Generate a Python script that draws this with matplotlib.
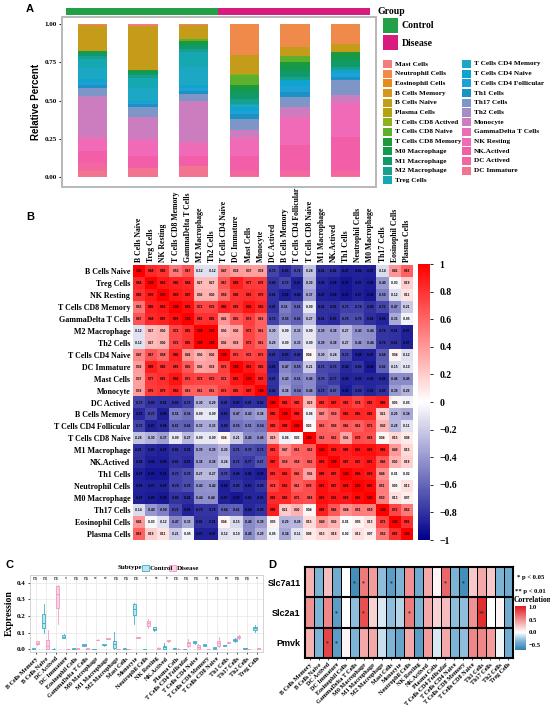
import numpy as np
import matplotlib
matplotlib.use("Agg")
import matplotlib.pyplot as plt
from matplotlib.colors import LinearSegmentedColormap, Normalize
from matplotlib.patches import Rectangle

W, H = 550, 705
SERIF = "Liberation Serif"
SANS = "Liberation Sans"

# ---------------- panel A data ----------------
cell_types = ["Mast Cells", "Neutrophil Cells", "Eosinophil Cells", "B Cells Memory",
              "B Cells Naive", "Plasma Cells", "T Cells CD8 Actived", "T Cells CD8 Naive",
              "T Cells CD8 Memory", "M0 Macrophage", "M1 Macrophage", "M2 Macrophage",
              "Treg Cells", "T Cells CD4 Memory", "T Cells CD4 Naive", "T Cells CD4 Follicular",
              "Th1 Cells", "Th17 Cells", "Th2 Cells", "Monocyte", "GammaDelta T Cells",
              "NK Resting", "NK.Actived", "DC Actived", "DC Immature"]
cell_colors = ["#F47C7C", "#F08A4A", "#E8891E", "#D6961E", "#C49C1A", "#B5A20F", "#8DB01E",
               "#5CB02C", "#1F9A3A", "#139A4E", "#109A6C", "#16A18E", "#16A8B0", "#1CA8C4",
               "#0FA3D0", "#1FA0D6", "#1A92C4", "#7E95C8", "#A68CC6", "#CC7DBF", "#E870B8",
               "#F06AB8", "#F25FA8", "#F2679E", "#F27590"]
samples = ["C1", "C2", "C3", "D1", "D2", "D3"]
groups = ["Control", "Control", "Control", "Disease", "Disease", "Disease"]
group_colors = {"Control": "#22A045", "Disease": "#D81B7F"}

ctrl1 = [.005, 0, 0, .005, .165, 0, 0, 0, .01, .005, .02, .02, .06, .07, .02, .02, .02, .05, .01, .26, .02, .07, .08, .05, .04]
ctrl2 = [.01, 0, 0, 0, .29, 0, 0, 0, .01, .01, .01, .02, .07, .08, .01, .01, .02, .07, 0, .14, .02, .09, .08, 0, .06]
ctrl3 = [.005, 0, 0, 0, .095, 0, 0, .01, .02, .01, .02, .02, .10, .12, .02, .02, .02, .04, 0, .27, .02, .07, .07, 0, .07]
dis1 = [0, .20, 0, 0, .125, 0, .005, .07, .02, .03, .04, .03, .01, .01, .03, .02, .03, .07, 0, .05, .02, .10, .10, .03, .01]
dis2 = [0, .15, 0, 0, .06, 0, 0, .035, .02, .04, .04, .02, 0, 0, .04, .04, .03, .065, 0, .06, .02, .17, .17, .03, .01]
dis3 = [0, .13, 0, 0, .05, 0, 0, 0, .02, .04, .04, .02, 0, 0, .02, .025, .02, .10, 0, .045, .01, .22, .22, .03, .01]

# ---------------- panel B data ----------------
cor_names = ["B Cells Naive", "Treg Cells", "NK Resting", "T Cells CD8 Memory", "GammaDelta T Cells",
             "M2 Macrophage", "Th2 Cells", "T Cells CD4 Naive", "DC Immature", "Mast Cells",
             "Monocyte", "DC Actived", "B Cells Memory", "T Cells CD4 Follicular",
             "T Cells CD8 Naive", "M1 Macrophage", "NK.Actived", "Th1 Cells", "Neutrophil Cells",
             "M0 Macrophage", "Th17 Cells", "Eosinophil Cells", "Plasma Cells"]
# upper triangle, row i holds the values for columns i+1 ... 22
cor_upper = [
    [.84, .80, .53, .67, -.12, -.12, .47, .39, .37, .38, -.73, -.83, -.72, -.24, -.81, -.82, -.87, -.86, -.87, -.14, .41, .62],
    [.90, .86, .84, .27, .27, .67, .88, .77, .76, -.80, -.73, -.87, -.30, -.85, -.88, -.91, -.87, -.89, -.40, -.03, .19],
    [.90, .87, .30, .30, .58, .80, .82, .79, -.81, -.88, -.84, -.37, -.87, -.88, -.91, -.87, -.90, -.50, -.12, .11],
    [.93, .72, .72, .86, .82, .92, .85, -.81, -.51, -.61, -.09, -.81, -.81, -.75, -.74, -.80, -.72, -.47, -.21],
    [.81, .81, .41, .65, .75, .62, -.75, -.56, -.62, -.27, -.81, -.83, -.70, -.70, -.82, -.86, -.33, -.05],
    [1.00, .30, .36, .73, .61, -.30, -.09, -.33, -.09, -.39, -.38, -.27, -.43, -.44, -.79, -.81, -.87],
    [.36, .38, .73, .61, -.29, -.09, -.33, -.09, -.39, -.38, -.27, -.42, -.44, -.79, -.81, -.87],
    [.75, .72, .75, -.81, -.83, -.80, .04, -.30, -.24, -.73, -.88, -.87, -.64, .04, -.12],
    [.91, .81, -.85, -.47, -.55, -.21, -.71, -.73, -.84, -.80, -.90, -.62, -.15, -.10],
    [.87, -.81, -.43, -.51, -.46, -.70, -.77, -.86, -.85, -.85, -.84, -.46, -.45],
    [-.82, -.38, -.54, -.46, -.73, -.67, -.89, -.80, -.85, -.80, -.39, -.29],
    [.86, .80, .29, .81, .87, .82, .74, .83, .88, .05, -.05],
    [.89, -.06, .47, .59, .85, .85, .83, .21, -.29, -.34],
    [.03, .62, .58, .66, .63, .71, .30, -.28, -.11],
    [.63, .63, .36, .70, .68, .04, .15, .08],
    [.90, .88, .93, .93, .88, .40, .15],
    [.87, .87, .91, .66, .30, .18],
    [.94, .90, .44, -.01, -.02],
    [.96, .51, .05, .12],
    [.50, .13, .07],
    [.72, .52],
    [.82],
]

# ---------------- panel C / D data ----------------
imm_names = ["B Cells Memory", "B Cells Naive", "DC Actived", "DC Immature", "Eosinophil Cells",
             "GammaDelta T Cells", "M0 Macrophage", "M1 Macrophage", "M2 Macrophage", "Mast Cells",
             "Monocyte", "Neutrophil Cells", "NK Resting", "NK.Actived", "Plasma Cells",
             "T Cells CD4 Follicular", "T Cells CD4 Naive", "T Cells CD8 Memory",
             "T Cells CD8 Naive", "Th1 Cells", "Th17 Cells", "Th2 Cells", "Treg Cells"]
ctrl_med = [.002, .155, .001, .075, .002, .025, .001, .025, .030, .003, .245, .001, .120, .010, .005, .001, .040, .025, .005, .022, .052, .004, .125]
ctrl_q1 = [0, .125, 0, .068, 0, .020, 0, .022, .005, .001, .205, 0, .113, .002, .003, 0, .034, .021, .001, .019, .046, .002, .115]
ctrl_q3 = [.005, .210, .003, .085, .004, .030, .002, .028, .050, .005, .275, .002, .132, .020, .007, .002, .046, .029, .010, .025, .060, .006, .135]
ctrl_lo = [0, .095, 0, .064, 0, .018, 0, .020, 0, 0, .150, 0, .110, 0, .002, 0, .032, .020, 0, .018, .044, .001, .105]
ctrl_hi = [.008, .270, .005, .092, .006, .033, .003, .030, .105, .007, .280, .003, .135, .035, .008, .003, .048, .030, .014, .026, .064, .008, .145]
dis_med = [.038, .020, .330, .001, .002, .002, .055, .062, .001, .001, .070, .155, .005, .050, .002, .035, .015, .001, .035, .040, .072, .001, .004]
dis_q1 = [.030, .002, .250, 0, 0, 0, .053, .060, 0, 0, .067, .142, .003, .046, 0, .020, .002, 0, .020, .038, .065, 0, .002]
dis_q3 = [.048, .055, .380, .002, .004, .004, .057, .064, .002, .002, .073, .168, .008, .054, .003, .045, .025, .002, .048, .042, .080, .002, .006]
dis_lo = [.025, 0, .150, 0, 0, 0, .052, .059, 0, 0, .066, .130, .002, .044, 0, .010, 0, 0, .012, .037, .062, 0, .001]
dis_hi = [.050, .115, .390, .003, .005, .005, .058, .065, .003, .003, .074, .180, .010, .056, .004, .060, .030, .003, .070, .043, .085, .003, .007]
sig_c = ["ns", "ns", "ns", "*", "ns", "ns", "**", "**", "ns", "ns", "ns", "*", "**", "*",
         "ns", "ns", "ns", "*", "ns", "**", "ns", "ns", "*"]

genes = ["Slc7a11", "Slc2a1", "Pmvk"]
r_slc7a11 = [.35, -.35, .30, -.40, 0, -.60, .60, .45, -.30, -.50, -.35, .50, -.40, .40, .05, .70, -.35, -.60, .25, .40, .25, -.35, -.40]
r_slc2a1 = [.50, -.35, .55, -.50, 0, -.30, .80, .20, -.10, -.30, -.20, .60, -.35, .40, .20, .30, -.30, -.30, .50, .95, 0, .05, -.40]
r_pmvk = [.35, -.35, .85, -.50, .05, -.35, .40, .40, -.15, -.35, -.45, .40, -.50, .45, -.10, .40, -.35, -.30, .55, .55, .45, -.05, -.40]
p_slc7a11 = ["", "", "", "", "", "*", "*", "", "", "*", "", "", "", "", "", "*", "", "*", "", "", "", "", ""]
p_slc2a1 = ["", "", "", "*", "", "", "*", "", "", "", "", "*", "", "", "", "", "", "", "", "**", "", "", ""]
p_pmvk = ["", "", "*", "*", "", "", "", "", "", "", "", "", "", "", "", "", "", "", "", "", "", "", ""]

fig = plt.figure(figsize=(W / 100, H / 100), dpi=100)


def px_axes(x0, y0, x1, y1):
    return fig.add_axes([x0 / W, 1 - y1 / H, (x1 - x0) / W, (y1 - y0) / H])


def ftext(x, y, s, **kw):
    fig.text(x / W, 1 - y / H, s, **kw)


def fbox(x0, y0, x1, y1, **kw):
    fig.add_artist(Rectangle((x0 / W, 1 - y1 / H), (x1 - x0) / W, (y1 - y0) / H,
                             transform=fig.transFigure, **kw))


bold_serif = dict(family=SERIF, fontweight="bold")

# ================= A =================
axA = px_axes(62, 17, 376, 187)
xs = np.arange(1, len(samples) + 1)
data_a = np.array([ctrl1, ctrl2, ctrl3, dis1, dis2, dis3]).T
bottom = np.zeros(len(samples))
for i in range(len(cell_types) - 1, -1, -1):
    axA.bar(xs, data_a[i], 0.58, bottom=bottom, color=cell_colors[i], lw=0)
    bottom += data_a[i]
axA.set_xlim(0.4, 6.6)
axA.set_ylim(-0.065, 1.046)
axA.set_xticks([])
axA.set_yticks([0, .25, .5, .75, 1])
axA.set_yticklabels(["0.00", "0.25", "0.50", "0.75", "1.00"], fontsize=5, **bold_serif)
axA.tick_params(axis="y", length=2, width=0.6, pad=1.5)
for sp in axA.spines.values():
    sp.set_color("#B8B8B8")
    sp.set_linewidth(1.4)
axA.set_ylabel("Relative Percent", family=SANS, fontweight="bold", fontsize=7, labelpad=3)

axG = px_axes(66, 8, 370, 15)
axG.bar(xs, np.ones(len(xs)), 1.0, color=[group_colors[g] for g in groups], lw=0)
axG.set_xlim(0.5, 6.5)
axG.set_ylim(0, 1)
axG.axis("off")

ftext(30, 9, "A", family=SANS, fontweight="bold", fontsize=8, ha="center", va="center")
ftext(378, 11, "Group", fontsize=7, ha="left", va="center", **bold_serif)
for k, g in enumerate(["Control", "Disease"]):
    y0 = 18 + k * 17
    fbox(383, y0, 398, y0 + 15, color=group_colors[g], lw=0)
    ftext(402, y0 + 8, g, fontsize=7, ha="left", va="center", **bold_serif)
for i, (name, col) in enumerate(zip(cell_types, cell_colors)):
    c, r = (0, i) if i < 13 else (1, i - 13)
    sx = 383 if c == 0 else 462
    yc = 64 + r * 9.7
    fbox(sx, yc - 4, sx + 9, yc + 4, color=col, lw=0)
    ftext(sx + 12, yc, name, fontsize=5.2, ha="left", va="center", **bold_serif)

# ================= B =================
n = len(cor_names)
cor = np.eye(n)
for i, row in enumerate(cor_upper):
    for k, v in enumerate(row):
        cor[i, i + 1 + k] = v
        cor[i + 1 + k, i] = v
cmapB = LinearSegmentedColormap.from_list("bwr2", ["#00008B", "#FFFFFF", "#FF0000"])
axB = px_axes(133, 265, 413, 540)
im = axB.imshow(cor, cmap=cmapB, vmin=-1, vmax=1, aspect="auto", interpolation="nearest")
for i in range(n):
    for j in range(n):
        axB.text(j, i, f"{cor[i, j]:.2f}", ha="center", va="center", fontsize=2.3,
                 fontweight="bold", family=SANS, color="black")
axB.xaxis.tick_top()
axB.set_xticks(range(n))
axB.set_xticklabels(cor_names, rotation=90, fontsize=5.6, **bold_serif)
axB.set_yticks(range(n))
axB.set_yticklabels(cor_names, fontsize=5.8, **bold_serif)
axB.tick_params(length=0, pad=2)
for sp in axB.spines.values():
    sp.set_visible(False)

cbB_ax = px_axes(418, 264, 430, 540)
cbB = fig.colorbar(im, cax=cbB_ax)
cbB.outline.set_visible(False)
tk = [1, .8, .6, .4, .2, 0, -.2, -.4, -.6, -.8, -1]
cbB.set_ticks(tk)
cbB.set_ticklabels([("\u2212" if t < 0 else "") + (f"{abs(t):g}") for t in tk])
for lab in cbB_ax.get_yticklabels():
    lab.set_fontfamily(SERIF)
    lab.set_fontweight("bold")
    lab.set_fontsize(7)
cbB_ax.tick_params(length=2, width=0.6, pad=5)
ftext(30, 217, "B", family=SANS, fontweight="bold", fontsize=8, ha="center", va="center")

# ================= C =================
axC = px_axes(30, 575, 263, 652)
pos = np.arange(1, len(imm_names) + 1)
ctrl_stats = [dict(med=m, q1=a, q3=b, whislo=lo, whishi=hi, fliers=[])
              for m, a, b, lo, hi in zip(ctrl_med, ctrl_q1, ctrl_q3, ctrl_lo, ctrl_hi)]
dis_stats = [dict(med=m, q1=a, q3=b, whislo=lo, whishi=hi, fliers=[])
             for m, a, b, lo, hi in zip(dis_med, dis_q1, dis_q3, dis_lo, dis_hi)]
for stats, off, edge, face in [(ctrl_stats, -0.19, "#3FB0C8", "#BFE5EE"),
                               (dis_stats, 0.19, "#F09AC4", "#F9D3E5")]:
    axC.bxp(stats, positions=pos + off, widths=0.32, patch_artist=True, showfliers=False,
            showcaps=False,
            boxprops=dict(facecolor=face, edgecolor=edge, lw=0.6),
            medianprops=dict(color=edge, lw=0.7),
            whiskerprops=dict(color=edge, lw=0.6))
for p, s in zip(pos, sig_c):
    axC.text(p, 0.428, s, ha="center", va="center", fontsize=3.3, family=SANS)
axC.set_xlim(0.45, 23.6)
axC.set_ylim(-0.018, 0.448)
axC.set_xticks(pos)
axC.set_xticklabels(imm_names, rotation=45, ha="right", rotation_mode="anchor",
                    fontsize=4.4, **bold_serif)
axC.set_yticks([0, .1, .2, .3, .4])
axC.set_yticklabels(["0.0", "0.1", "0.2", "0.3", "0.4"], fontsize=5, **bold_serif)
axC.tick_params(length=1.5, width=0.5, pad=1.5)
axC.grid(True, color="#E6E6E6", lw=0.5)
axC.set_axisbelow(True)
for sp in axC.spines.values():
    sp.set_color("#CCCCCC")
    sp.set_linewidth(0.6)
axC.set_ylabel("Expression", fontsize=7, labelpad=2, **bold_serif)
ftext(10, 565, "C", family=SANS, fontweight="bold", fontsize=8, ha="center", va="center")
ftext(118, 568, "Subtype", fontsize=5, ha="left", va="center", **bold_serif)
fbox(142, 565, 149, 571, facecolor="#BFE5EE", edgecolor="#3FB0C8", lw=0.6)
ftext(150, 568, "Control", fontsize=5, ha="left", va="center", **bold_serif)
fbox(169, 565, 176, 571, facecolor="#F9D3E5", edgecolor="#F09AC4", lw=0.6)
ftext(177, 568, "Disease", fontsize=5, ha="left", va="center", **bold_serif)

# ================= D =================
vmin, vmax = -0.7, 1.05
mid = (0 - vmin) / (vmax - vmin)
cmapD = LinearSegmentedColormap.from_list("rdbu2", [(0, "#2F7FB0"), (mid * 0.5, "#7DB4D6"),
                                                     (mid, "#FFFFFF"), (1, "#E0191C")])
normD = Normalize(vmin, vmax)
d_vals = np.array([r_slc7a11, r_slc2a1, r_pmvk])
d_sig = [p_slc7a11, p_slc2a1, p_pmvk]
axD = px_axes(305, 567, 513, 658)
axD.pcolormesh(d_vals, cmap=cmapD, norm=normD, edgecolors="black", linewidth=0.7)
for i in range(len(genes)):
    for j in range(len(imm_names)):
        if d_sig[i][j]:
            axD.text(j + 0.5, i + 0.5, d_sig[i][j], ha="center", va="center", fontsize=4,
                     fontweight="bold", color="#333333")
for yy in [1, 2]:
    axD.axhline(yy, color="black", lw=1.5)
axD.set_xlim(0, len(imm_names))
axD.set_ylim(len(genes), 0)
axD.set_xticks(np.arange(len(imm_names)) + 0.5)
axD.set_xticklabels(imm_names, rotation=45, ha="right", rotation_mode="anchor",
                    fontsize=4.4, **bold_serif)
axD.set_yticks(np.arange(len(genes)) + 0.5)
axD.set_yticklabels(genes, family=SANS, fontweight="bold", fontsize=6.5)
axD.tick_params(axis="x", length=1.5, width=0.5, pad=1.5)
axD.tick_params(axis="y", length=0, pad=3)
for sp in axD.spines.values():
    sp.set_linewidth(1.5)
ftext(272, 565, "D", family=SANS, fontweight="bold", fontsize=8, ha="center", va="center")
ftext(517, 577, "* p < 0.05", fontsize=4.8, ha="left", va="center", **bold_serif)
ftext(515, 591, "** p < 0.01", fontsize=4.8, ha="left", va="center", **bold_serif)
ftext(514, 600, "Correlation", fontsize=5.5, ha="left", va="center", **bold_serif)
cbD_ax = px_axes(515, 606, 526, 650)
cbD = fig.colorbar(plt.cm.ScalarMappable(norm=normD, cmap=cmapD), cax=cbD_ax)
cbD.outline.set_visible(False)
cbD.set_ticks([1.0, 0.5, 0.0, -0.5])
cbD.set_ticklabels(["1.0", "0.5", "0.0", "\u22120.5"])
for lab in cbD_ax.get_yticklabels():
    lab.set_fontfamily(SERIF)
    lab.set_fontweight("bold")
    lab.set_fontsize(4.8)
cbD_ax.tick_params(length=0, pad=2)

fig.savefig("out.png", dpi=100)
